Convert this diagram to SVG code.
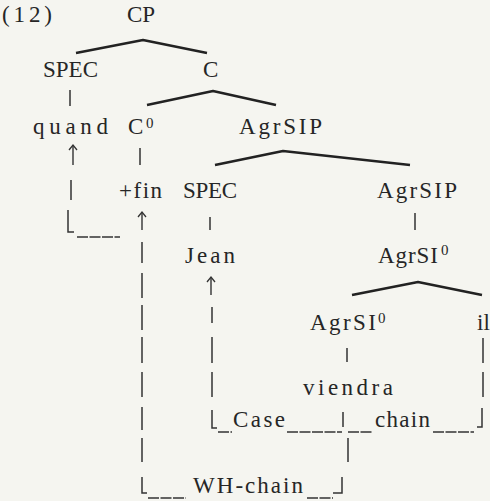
<svg xmlns="http://www.w3.org/2000/svg" width="490" height="501" viewBox="0 0 490 501">
<defs>
<style>
text{font-family:"Liberation Serif","Times New Roman",serif;font-size:23px;fill:#262626}
.sup{font-size:15px}
.branch{stroke:#222;stroke-width:2.6;fill:none;stroke-linejoin:round}
.tick{stroke:#333;stroke-width:1.5;fill:none}
.chain{stroke:#333;stroke-width:1.5;fill:none}
.under{stroke:#333;stroke-width:1.3;stroke-dasharray:11 1.5;fill:none}
.arrow{stroke:#333;stroke-width:1.4;fill:none;marker-end:url(#up)}
</style>
<marker id="up" markerUnits="userSpaceOnUse" markerWidth="12" markerHeight="12" refX="0" refY="0" orient="auto" overflow="visible"><path d="M-5,-4 L0,0 L-5,4" fill="none" stroke="#333" stroke-width="1.3"/></marker>
</defs>
<rect width="490" height="501" fill="#f5f5f0"/>
<g id="nodes">
<g id="ex-number"><text x="2" y="22" textLength="50" lengthAdjust="spacing">(12)</text></g>
<g id="CP"><text x="127" y="22" textLength="28" lengthAdjust="spacing">CP</text></g>
<g id="SPEC-1"><text x="43" y="77" textLength="55" lengthAdjust="spacing">SPEC</text></g>
<g id="C-bar"><text x="203" y="77">C</text></g>
<g id="quand"><text x="33" y="134" textLength="75" lengthAdjust="spacing">quand</text></g>
<g id="C0"><text x="128" y="134">C</text><text class="sup" x="146" y="128">0</text></g>
<g id="AgrSIP-1"><text x="239" y="134" textLength="83" lengthAdjust="spacing">AgrSIP</text></g>
<g id="fin"><text x="119" y="198" textLength="43" lengthAdjust="spacing">+fin</text></g>
<g id="SPEC-2"><text x="183" y="198" textLength="54" lengthAdjust="spacing">SPEC</text></g>
<g id="AgrSIP-2"><text x="377" y="198" textLength="80" lengthAdjust="spacing">AgrSIP</text></g>
<g id="Jean"><text x="185" y="263" textLength="50" lengthAdjust="spacing">Jean</text></g>
<g id="AgrSI0-1"><text x="378" y="263" textLength="60" lengthAdjust="spacing">AgrSI</text><text class="sup" x="441" y="255">0</text></g>
<g id="AgrSI0-2"><text x="310" y="330" textLength="66" lengthAdjust="spacing">AgrSI</text><text class="sup" x="378" y="323">0</text></g>
<g id="il"><text x="477" y="330">il</text></g>
<g id="viendra"><text x="303" y="395" textLength="90" lengthAdjust="spacing">viendra</text></g>
</g>
<g id="connectors">
<polyline class="branch" points="76,53 143,40 207,53"/>
<polyline class="branch" points="147,105 213,91 276,105"/>
<polyline class="branch" points="215,165 283,151 410,165"/>
<polyline class="branch" points="352,295 418,282 482,295"/>
<path class="tick" d="M70,90V106M140,148V165M210,217V230M415,213V230M347,348V362"/>
<line class="arrow" x1="73" y1="165" x2="73" y2="145"/>
<path class="chain" d="M71,180V200M68,210V232H74"/>
<line class="under" x1="77" y1="237" x2="120" y2="237"/>
<line class="arrow" x1="142" y1="230" x2="142" y2="212"/>
<path class="chain" d="M142,242V263M142,273V298M142,305V330M142,337V363M142,372V397M142,407V430M142,438V462M142,477V493H147M333,493H342V477M348,438V462"/>
<line class="under" x1="148" y1="498" x2="186" y2="498"/>
<line class="under" x1="307" y1="498" x2="333" y2="498"/>
<text x="193" y="493" textLength="110" lengthAdjust="spacing">WH-chain</text>
<line class="arrow" x1="211" y1="295" x2="211" y2="277"/>
<path class="chain" d="M212,307V323M212,337V363M212,372V397M212,410V428H217M343,412V427M477,427H482V408M483,338V363M483,372V397"/>
<line class="under" x1="218" y1="432" x2="232" y2="432"/>
<line class="under" x1="287" y1="432" x2="342" y2="432"/>
<line class="under" x1="348" y1="432" x2="372" y2="432"/>
<line class="under" x1="433" y1="432" x2="474" y2="432"/>
<text x="233" y="427" textLength="52" lengthAdjust="spacing">Case</text>
<text x="375" y="427" textLength="55" lengthAdjust="spacing">chain</text>
</g>
</svg>
